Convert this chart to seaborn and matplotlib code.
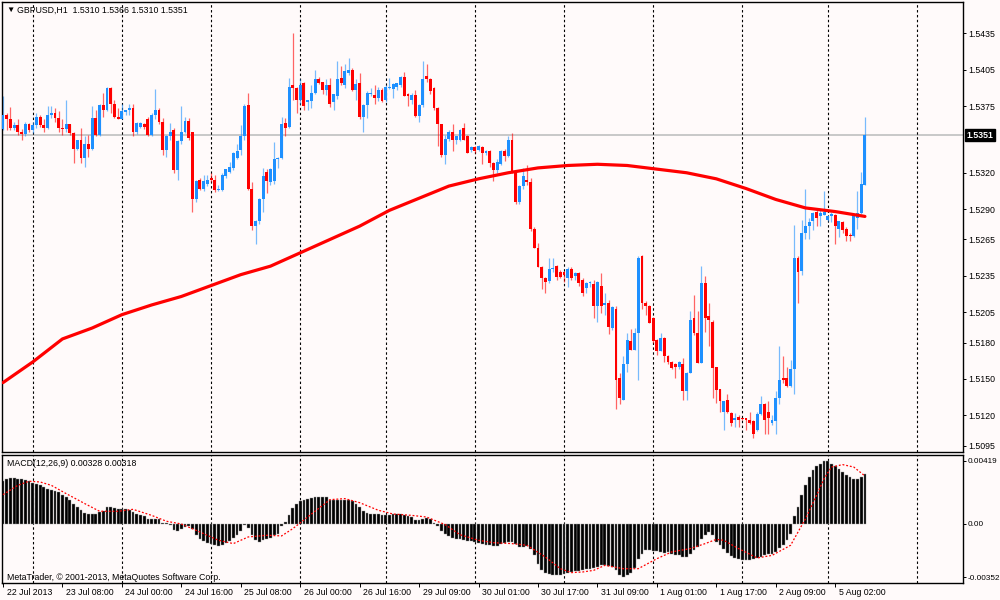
"""
GBPUSD H1 candlestick chart with moving average and MACD sub-window
"""

import numpy as np
import pandas as pd
import matplotlib
matplotlib.use("Agg")
import matplotlib.pyplot as plt
from matplotlib.transforms import ScaledTranslation, blended_transform_factory
import seaborn as sns

symbol = "GBPUSD"
period = "H1"
first_bar = "2013-07-22 16:00"

opens = [
    1.5356, 1.5368, 1.5364, 1.5357, 1.5359, 1.5354, 1.5352, 1.5360, 1.5355, 1.5359,
    1.5366, 1.5359, 1.5357, 1.5368, 1.5369, 1.5365, 1.5357, 1.5356, 1.5360, 1.5353,
    1.5340, 1.5347, 1.5332, 1.5344, 1.5340, 1.5365, 1.5351, 1.5376, 1.5372, 1.5390,
    1.5377, 1.5366, 1.5364, 1.5370, 1.5372, 1.5373, 1.5354, 1.5358, 1.5360, 1.5364,
    1.5351, 1.5368, 1.5372, 1.5362, 1.5339, 1.5350, 1.5355, 1.5322, 1.5346, 1.5354,
    1.5363, 1.5354, 1.5298, 1.5314, 1.5307, 1.5311, 1.5316, 1.5314, 1.5306, 1.5306,
    1.5317, 1.5321, 1.5324, 1.5332, 1.5339, 1.5350, 1.5376, 1.5307, 1.5276, 1.5280,
    1.5298, 1.5321, 1.5312, 1.5313, 1.5331, 1.5332, 1.5361, 1.5358, 1.5392, 1.5390,
    1.5380, 1.5394, 1.5378, 1.5379, 1.5386, 1.5397, 1.5395, 1.5388, 1.5392, 1.5378,
    1.5383, 1.5398, 1.5392, 1.5402, 1.5405, 1.5388, 1.5394, 1.5366, 1.5376, 1.5385,
    1.5384, 1.5382, 1.5388, 1.5380, 1.5390, 1.5389, 1.5391, 1.5392, 1.5399, 1.5385,
    1.5380, 1.5384, 1.5367, 1.5376, 1.5400, 1.5397, 1.5390, 1.5373, 1.5360, 1.5335,
    1.5348, 1.5354, 1.5347, 1.5347, 1.5357, 1.5350, 1.5339, 1.5341, 1.5339, 1.5341,
    1.5336, 1.5338, 1.5328, 1.5322, 1.5327, 1.5338, 1.5334, 1.5347, 1.5321, 1.5296,
    1.5309, 1.5314, 1.5312, 1.5274, 1.5258, 1.5242, 1.5233, 1.5231, 1.5241, 1.5243,
    1.5238, 1.5238, 1.5233, 1.5241, 1.5235, 1.5237, 1.5232, 1.5225, 1.5229, 1.5228,
    1.5210, 1.5227, 1.5211, 1.5213, 1.5192, 1.5208, 1.5151, 1.5133, 1.5162, 1.5181,
    1.5174, 1.5188, 1.5251, 1.5213, 1.5210, 1.5200, 1.5182, 1.5173, 1.5184, 1.5169,
    1.5164, 1.5162, 1.5160, 1.5162, 1.5140, 1.5155, 1.5200, 1.5188, 1.5163, 1.5229,
    1.5202, 1.5197, 1.5160, 1.5142, 1.5123, 1.5133, 1.5122, 1.5116, 1.5119, 1.5118,
    1.5118, 1.5116, 1.5115, 1.5108, 1.5121, 1.5129, 1.5123, 1.5114, 1.5115, 1.5134,
    1.5151, 1.5151, 1.5144, 1.5158, 1.5250, 1.5239, 1.5270, 1.5276, 1.5280, 1.5288,
    1.5284, 1.5285, 1.5281, 1.5284, 1.5285, 1.5274, 1.5279, 1.5274, 1.5269, 1.5268,
    1.5283, 1.5287, 1.5310,
]
highs = [
    1.5383, 1.5369, 1.5374, 1.5362, 1.5364, 1.5356, 1.5362, 1.5361, 1.5362, 1.5369,
    1.5368, 1.5364, 1.5375, 1.5375, 1.5373, 1.5371, 1.5364, 1.5380, 1.5360, 1.5354,
    1.5347, 1.5357, 1.5350, 1.5351, 1.5375, 1.5372, 1.5377, 1.5386, 1.5391, 1.5391,
    1.5380, 1.5373, 1.5377, 1.5372, 1.5377, 1.5377, 1.5362, 1.5362, 1.5361, 1.5366,
    1.5369, 1.5389, 1.5373, 1.5365, 1.5351, 1.5361, 1.5357, 1.5347, 1.5375, 1.5366,
    1.5365, 1.5354, 1.5314, 1.5316, 1.5318, 1.5318, 1.5320, 1.5318, 1.5310, 1.5320,
    1.5323, 1.5329, 1.5337, 1.5344, 1.5359, 1.5377, 1.5386, 1.5312, 1.5281, 1.5299,
    1.5324, 1.5323, 1.5324, 1.5345, 1.5333, 1.5366, 1.5365, 1.5398, 1.5435, 1.5391,
    1.5397, 1.5395, 1.5380, 1.5392, 1.5405, 1.5399, 1.5395, 1.5397, 1.5398, 1.5385,
    1.5412, 1.5408, 1.5410, 1.5415, 1.5406, 1.5397, 1.5402, 1.5377, 1.5387, 1.5390,
    1.5392, 1.5391, 1.5390, 1.5392, 1.5398, 1.5394, 1.5394, 1.5400, 1.5403, 1.5386,
    1.5386, 1.5388, 1.5377, 1.5412, 1.5410, 1.5398, 1.5391, 1.5374, 1.5360, 1.5351,
    1.5355, 1.5360, 1.5350, 1.5356, 1.5361, 1.5351, 1.5342, 1.5342, 1.5343, 1.5342,
    1.5339, 1.5339, 1.5329, 1.5331, 1.5339, 1.5340, 1.5350, 1.5353, 1.5322, 1.5310,
    1.5324, 1.5326, 1.5316, 1.5275, 1.5262, 1.5243, 1.5234, 1.5250, 1.5250, 1.5244,
    1.5240, 1.5239, 1.5242, 1.5242, 1.5238, 1.5238, 1.5233, 1.5230, 1.5231, 1.5232,
    1.5231, 1.5237, 1.5221, 1.5215, 1.5210, 1.5210, 1.5155, 1.5169, 1.5188, 1.5191,
    1.5192, 1.5251, 1.5252, 1.5214, 1.5211, 1.5201, 1.5183, 1.5188, 1.5185, 1.5170,
    1.5165, 1.5163, 1.5165, 1.5167, 1.5156, 1.5206, 1.5219, 1.5206, 1.5243, 1.5235,
    1.5213, 1.5199, 1.5160, 1.5142, 1.5132, 1.5138, 1.5123, 1.5122, 1.5120, 1.5118,
    1.5118, 1.5123, 1.5116, 1.5123, 1.5136, 1.5130, 1.5132, 1.5120, 1.5140, 1.5177,
    1.5169, 1.5160, 1.5166, 1.5277, 1.5251, 1.5281, 1.5307, 1.5283, 1.5288, 1.5289,
    1.5290, 1.5305, 1.5284, 1.5288, 1.5286, 1.5280, 1.5280, 1.5275, 1.5270, 1.5286,
    1.5305, 1.5321, 1.5366,
]
lows = [
    1.5355, 1.5355, 1.5355, 1.5355, 1.5351, 1.5347, 1.5350, 1.5354, 1.5353, 1.5357,
    1.5358, 1.5354, 1.5356, 1.5365, 1.5362, 1.5354, 1.5351, 1.5354, 1.5351, 1.5328,
    1.5339, 1.5328, 1.5325, 1.5333, 1.5339, 1.5350, 1.5350, 1.5366, 1.5371, 1.5369,
    1.5365, 1.5364, 1.5364, 1.5368, 1.5368, 1.5350, 1.5352, 1.5357, 1.5356, 1.5350,
    1.5350, 1.5364, 1.5360, 1.5335, 1.5333, 1.5347, 1.5320, 1.5314, 1.5344, 1.5353,
    1.5347, 1.5288, 1.5296, 1.5306, 1.5305, 1.5309, 1.5312, 1.5304, 1.5305, 1.5305,
    1.5316, 1.5320, 1.5322, 1.5331, 1.5335, 1.5347, 1.5306, 1.5273, 1.5261, 1.5278,
    1.5288, 1.5303, 1.5310, 1.5311, 1.5324, 1.5331, 1.5350, 1.5357, 1.5380, 1.5369,
    1.5377, 1.5372, 1.5372, 1.5373, 1.5385, 1.5393, 1.5385, 1.5384, 1.5374, 1.5372,
    1.5381, 1.5392, 1.5390, 1.5401, 1.5387, 1.5380, 1.5364, 1.5354, 1.5365, 1.5383,
    1.5377, 1.5379, 1.5378, 1.5378, 1.5389, 1.5382, 1.5388, 1.5391, 1.5383, 1.5375,
    1.5377, 1.5366, 1.5362, 1.5374, 1.5395, 1.5385, 1.5372, 1.5342, 1.5333, 1.5327,
    1.5346, 1.5338, 1.5344, 1.5346, 1.5347, 1.5336, 1.5337, 1.5336, 1.5338, 1.5327,
    1.5335, 1.5325, 1.5313, 1.5320, 1.5326, 1.5330, 1.5333, 1.5320, 1.5294, 1.5294,
    1.5307, 1.5310, 1.5272, 1.5258, 1.5242, 1.5224, 1.5221, 1.5229, 1.5238, 1.5232,
    1.5233, 1.5230, 1.5226, 1.5232, 1.5232, 1.5227, 1.5218, 1.5221, 1.5226, 1.5200,
    1.5197, 1.5204, 1.5203, 1.5187, 1.5190, 1.5125, 1.5129, 1.5133, 1.5156, 1.5174,
    1.5174, 1.5149, 1.5208, 1.5203, 1.5196, 1.5180, 1.5170, 1.5173, 1.5164, 1.5162,
    1.5158, 1.5151, 1.5158, 1.5133, 1.5133, 1.5155, 1.5186, 1.5163, 1.5163, 1.5189,
    1.5177, 1.5134, 1.5130, 1.5123, 1.5108, 1.5122, 1.5111, 1.5110, 1.5110, 1.5116,
    1.5108, 1.5113, 1.5101, 1.5107, 1.5120, 1.5105, 1.5105, 1.5112, 1.5105, 1.5129,
    1.5147, 1.5143, 1.5143, 1.5138, 1.5213, 1.5236, 1.5265, 1.5265, 1.5273, 1.5276,
    1.5276, 1.5285, 1.5280, 1.5279, 1.5261, 1.5267, 1.5270, 1.5264, 1.5264, 1.5267,
    1.5274, 1.5286, 1.5310,
]
closes = [
    1.5368, 1.5364, 1.5357, 1.5359, 1.5354, 1.5352, 1.5360, 1.5355, 1.5359, 1.5366,
    1.5359, 1.5357, 1.5368, 1.5369, 1.5365, 1.5357, 1.5356, 1.5360, 1.5353, 1.5340,
    1.5347, 1.5332, 1.5344, 1.5340, 1.5365, 1.5351, 1.5376, 1.5372, 1.5390, 1.5377,
    1.5366, 1.5364, 1.5371, 1.5372, 1.5373, 1.5354, 1.5361, 1.5361, 1.5358, 1.5351,
    1.5368, 1.5372, 1.5362, 1.5339, 1.5350, 1.5354, 1.5322, 1.5346, 1.5354, 1.5363,
    1.5349, 1.5298, 1.5313, 1.5307, 1.5313, 1.5314, 1.5314, 1.5306, 1.5307, 1.5318,
    1.5323, 1.5325, 1.5336, 1.5338, 1.5350, 1.5375, 1.5307, 1.5276, 1.5280, 1.5298,
    1.5317, 1.5313, 1.5323, 1.5331, 1.5332, 1.5360, 1.5357, 1.5391, 1.5390, 1.5380,
    1.5392, 1.5375, 1.5380, 1.5386, 1.5397, 1.5394, 1.5388, 1.5392, 1.5377, 1.5385,
    1.5397, 1.5394, 1.5404, 1.5405, 1.5388, 1.5393, 1.5366, 1.5376, 1.5386, 1.5386,
    1.5382, 1.5388, 1.5379, 1.5391, 1.5391, 1.5393, 1.5394, 1.5399, 1.5383, 1.5383,
    1.5384, 1.5367, 1.5376, 1.5397, 1.5397, 1.5387, 1.5373, 1.5360, 1.5335, 1.5348,
    1.5354, 1.5347, 1.5350, 1.5355, 1.5347, 1.5336, 1.5341, 1.5338, 1.5342, 1.5336,
    1.5338, 1.5328, 1.5322, 1.5329, 1.5338, 1.5334, 1.5347, 1.5321, 1.5296, 1.5309,
    1.5317, 1.5312, 1.5274, 1.5258, 1.5242, 1.5233, 1.5230, 1.5241, 1.5241, 1.5234,
    1.5234, 1.5236, 1.5241, 1.5233, 1.5237, 1.5229, 1.5221, 1.5229, 1.5230, 1.5210,
    1.5230, 1.5210, 1.5213, 1.5193, 1.5209, 1.5149, 1.5134, 1.5162, 1.5182, 1.5174,
    1.5188, 1.5250, 1.5213, 1.5210, 1.5196, 1.5181, 1.5173, 1.5184, 1.5169, 1.5164,
    1.5159, 1.5160, 1.5164, 1.5140, 1.5155, 1.5199, 1.5188, 1.5163, 1.5229, 1.5200,
    1.5199, 1.5159, 1.5141, 1.5132, 1.5132, 1.5123, 1.5114, 1.5118, 1.5116, 1.5117,
    1.5116, 1.5114, 1.5105, 1.5121, 1.5129, 1.5116, 1.5118, 1.5116, 1.5134, 1.5149,
    1.5149, 1.5144, 1.5158, 1.5250, 1.5238, 1.5270, 1.5276, 1.5279, 1.5287, 1.5283,
    1.5287, 1.5288, 1.5284, 1.5286, 1.5276, 1.5280, 1.5273, 1.5268, 1.5268, 1.5285,
    1.5287, 1.5311, 1.5351,
]

# moving average read every 8 bars
ma_bars = [0, 8, 16, 24, 32, 40, 48, 56, 64, 72, 80, 88, 96, 104, 112,
           120, 128, 136, 144, 152, 160, 168, 176, 184, 192, 200, 208, 216, 224, 232]
ma_values = [1.5147, 1.5164, 1.5183, 1.5192, 1.5203, 1.5211, 1.5218, 1.5227, 1.5236, 1.5243,
             1.5254, 1.5265, 1.5276, 1.5289, 1.5299, 1.5309, 1.5315, 1.5320, 1.5324, 1.5326,
             1.5327, 1.5326, 1.5323, 1.5320, 1.5315, 1.5307, 1.5298, 1.5291, 1.5288, 1.5284]

macd_main = [
    0.00283, 0.00300, 0.00305, 0.00305, 0.00300, 0.00296, 0.00289, 0.00283, 0.00274, 0.00263,
    0.00256, 0.00245, 0.00234, 0.00227, 0.00221, 0.00212, 0.00194, 0.00179, 0.00161, 0.00134,
    0.00112, 0.00090, 0.00075, 0.00068, 0.00064, 0.00068, 0.00079, 0.00084, 0.00112, 0.00112,
    0.00106, 0.00102, 0.00097, 0.00097, 0.00090, 0.00079, 0.00068, 0.00057, 0.00053, 0.00035,
    0.00031, 0.00035, 0.00031, 0.00009, 0.00004, -0.00005, -0.00042, -0.00049, -0.00035, -0.00020,
    -0.00013, -0.00035, -0.00075, -0.00102, -0.00115, -0.00126, -0.00132, -0.00141, -0.00146, -0.00137,
    -0.00124, -0.00110, -0.00093, -0.00075, -0.00049, -0.00009, -0.00026, -0.00071, -0.00108, -0.00119,
    -0.00108, -0.00102, -0.00093, -0.00075, -0.00064, -0.00013, 0.00013, 0.00057, 0.00106, 0.00135,
    0.00150, 0.00157, 0.00168, 0.00174, 0.00181, 0.00181, 0.00181, 0.00179, 0.00157, 0.00157,
    0.00157, 0.00161, 0.00161, 0.00157, 0.00150, 0.00135, 0.00113, 0.00084, 0.00075, 0.00068,
    0.00066, 0.00064, 0.00062, 0.00062, 0.00062, 0.00064, 0.00066, 0.00066, 0.00062, 0.00053,
    0.00046, 0.00024, 0.00024, 0.00035, 0.00040, 0.00031, 0.00009, -0.00013, -0.00049, -0.00064,
    -0.00079, -0.00093, -0.00102, -0.00102, -0.00108, -0.00115, -0.00115, -0.00119, -0.00124, -0.00130,
    -0.00137, -0.00137, -0.00146, -0.00146, -0.00132, -0.00124, -0.00119, -0.00119, -0.00130, -0.00152,
    -0.00152, -0.00146, -0.00163, -0.00208, -0.00263, -0.00307, -0.00322, -0.00329, -0.00336, -0.00340,
    -0.00340, -0.00329, -0.00322, -0.00318, -0.00313, -0.00313, -0.00307, -0.00300, -0.00296, -0.00291,
    -0.00285, -0.00274, -0.00274, -0.00278, -0.00285, -0.00307, -0.00340, -0.00352, -0.00336, -0.00322,
    -0.00291, -0.00234, -0.00196, -0.00174, -0.00174, -0.00177, -0.00181, -0.00185, -0.00190, -0.00185,
    -0.00196, -0.00203, -0.00208, -0.00219, -0.00219, -0.00196, -0.00174, -0.00152, -0.00097, -0.00075,
    -0.00053, -0.00071, -0.00119, -0.00137, -0.00163, -0.00190, -0.00212, -0.00225, -0.00234, -0.00241,
    -0.00241, -0.00241, -0.00234, -0.00225, -0.00219, -0.00208, -0.00196, -0.00196, -0.00185, -0.00159,
    -0.00137, -0.00108, -0.00064, 0.00053, 0.00113, 0.00190, 0.00256, 0.00311, 0.00355, 0.00384,
    0.00400, 0.00419, 0.00417, 0.00400, 0.00385, 0.00365, 0.00345, 0.00325, 0.00308, 0.00300,
    0.00300, 0.00308, 0.00328,
]

# signal line read at these bars
signal_bars = [0, 4, 7, 10, 13, 17, 22, 26, 31, 35, 40, 44, 48, 53, 58, 62, 66, 71, 75, 78,
               82, 88, 92, 96, 101, 105, 110, 114, 119, 123, 128, 132, 137, 141, 146, 150, 153,
               156, 159, 162, 167, 171, 176, 180, 185, 189, 192, 194, 198, 203, 207, 212, 214,
               216, 219, 221, 223, 226, 229, 232]
signal_values = [0.00194, 0.00256, 0.00283, 0.00278, 0.00256, 0.00201, 0.00135, 0.00084, 0.00084,
                 0.00097, 0.00057, 0.00018, 0.00000, -0.00053, -0.00108, -0.00130, -0.00086,
                 -0.00075, -0.00079, -0.00031, 0.00046, 0.00161, 0.00168, 0.00141, 0.00091,
                 0.00066, 0.00057, 0.00046, -0.00004, -0.00071, -0.00108, -0.00124, -0.00130,
                 -0.00141, -0.00219, -0.00296, -0.00322, -0.00318, -0.00307, -0.00274, -0.00296,
                 -0.00296, -0.00230, -0.00185, -0.00163, -0.00130, -0.00102, -0.00108, -0.00163,
                 -0.00225, -0.00208, -0.00141, -0.00053, 0.00035, 0.00190, 0.00300, 0.00377,
                 0.00393, 0.00377, 0.00318]

price_ticks = [1.5435, 1.5405, 1.5375, 1.5320, 1.5290, 1.5265, 1.5235,
               1.5205, 1.5180, 1.5150, 1.5120, 1.5095]
macd_ticks = [0.00419, 0.0, -0.00352]
macd_tick_labels = ["0.00419", "0.00", "-0.00352"]

BLUE = "#1e90ff"
RED = "#ff0000"
BG = "#fffafa"
FS = 6.3


def broker_hours(start, count):
    """Hourly bar times; market closed from Friday 23:00 to Monday 00:00"""
    hours = pd.date_range(start, periods=count * 2, freq="h")
    is_open = (hours.dayofweek < 5) & ~((hours.dayofweek == 4) & (hours.hour == 23))
    return hours[is_open][:count]


def main():
    sns.set_theme(style="white")
    plt.rcParams["font.family"] = ["Liberation Sans", "DejaVu Sans"]
    plt.rcParams["text.color"] = "black"

    n = len(closes)
    x_right = 258.4
    times = broker_hours(first_bar, int(x_right) + 2)
    idx = np.arange(n)
    o, h, l, c = (np.array(v) for v in (opens, highs, lows, closes))
    colors = np.where(c >= o, BLUE, RED)

    fig = plt.figure(figsize=(10, 6), dpi=100, facecolor=BG)
    ax_p = fig.add_axes([0.002, 0.2467, 0.961, 0.7500], facecolor=BG)
    ax_m = fig.add_axes([0.002, 0.0288, 0.961, 0.2137], facecolor=BG)

    # candles
    ax_p.vlines(idx, l, h, colors=colors, lw=0.9, alpha=0.6, zorder=2)
    ax_p.bar(idx, np.maximum(np.abs(c - o), 0.00008), bottom=np.minimum(o, c),
             width=0.78, color=colors, lw=0, zorder=3)
    sns.lineplot(x=ma_bars, y=ma_values, ax=ax_p, color=RED, lw=2.3, zorder=4)
    ax_p.axhline(closes[-1], color="#c8c8c8", lw=1.4, zorder=1)

    # MACD
    ax_m.bar(idx, macd_main, width=0.75, color="black", edgecolor="#9a9a9a", lw=0.3, zorder=2)
    sns.lineplot(x=signal_bars, y=signal_values, ax=ax_m, color=RED, lw=0.9,
                 linestyle=(0, (1.5, 1.5)), zorder=3)

    # day separators
    day_starts = [i for i in range(1, len(times)) if times[i].date() != times[i - 1].date()]
    for ax in (ax_p, ax_m):
        for d in day_starts:
            ax.axvline(d, color="black", lw=0.8, linestyle=(0, (2.2, 2.2)), zorder=1)
        ax.set_xlim(-0.27, x_right)
        ax.set_xlabel("")
        ax.set_ylabel("")
        for s in ax.spines.values():
            s.set_color("black")
            s.set_linewidth(1.0)
        ax.yaxis.tick_right()
        ax.tick_params(axis="y", which="both", right=True, length=2.5, width=0.7,
                       color="black", labelsize=FS, pad=1.5, labelcolor="black")

    ax_p.set_ylim(1.50898, 1.54608)
    ax_p.set_yticks(price_ticks)
    ax_p.set_yticklabels([f"{v:.4f}" for v in price_ticks])
    ax_p.tick_params(axis="x", bottom=False, labelbottom=False)

    ax_m.set_ylim(-0.00389, 0.00460)
    ax_m.set_yticks(macd_ticks)
    ax_m.set_yticklabels(macd_tick_labels)
    ax_m.tick_params(axis="y", labelsize=5.9, pad=1.0, length=2.0)

    # time labels every 16 bars
    label_bars = list(range(0, n, 16))
    labels = []
    for i in label_bars:
        t = times[i]
        labels.append(f"{t.day} {t:%b %Y}" if i == 0 else f"{t.day} {t:%b %H:%M}")
    ax_m.set_xticks(label_bars)
    ax_m.set_xticklabels(labels, ha="left")
    ax_m.tick_params(axis="x", bottom=True, length=3, width=0.7, color="black",
                     labelsize=FS, pad=1.0, labelcolor="black")
    shift = ScaledTranslation(3.5 / 100, 0, fig.dpi_scale_trans)
    for lab in ax_m.get_xticklabels():
        lab.set_transform(lab.get_transform() + shift)

    # current price marker on the scale
    tr = blended_transform_factory(ax_p.transAxes, ax_p.transData)
    ax_p.text(1.004, closes[-1], f"{closes[-1]:.4f}", transform=tr, ha="left", va="center",
              fontsize=FS, color="white", fontweight="bold",
              bbox=dict(boxstyle="square,pad=0.2", fc="black", ec="black"))

    # header texts
    fig.text(0.006, 1 - 10 / 600, "\u25bc", fontsize=6, va="center", ha="left")
    fig.text(0.0167, 1 - 10 / 600,
             f"{symbol},{period}  {opens[-1]:.4f} {highs[-1]:.4f} {lows[-1]:.4f} {closes[-1]:.4f}",
             fontsize=FS, va="center", ha="left")
    fig.text(0.0067, 1 - 463 / 600,
             f"MACD(12,26,9) {macd_main[-1]:.5f} {signal_values[-1]:.5f}",
             fontsize=FS, va="center", ha="left")
    fig.text(0.0067, 1 - 577 / 600, "MetaTrader, \u00a9 2001-2013, MetaQuotes Software Corp.",
             fontsize=FS, va="center", ha="left")

    fig.savefig("out.png", dpi=100, facecolor=BG)
    plt.close(fig)


if __name__ == "__main__":
    main()
